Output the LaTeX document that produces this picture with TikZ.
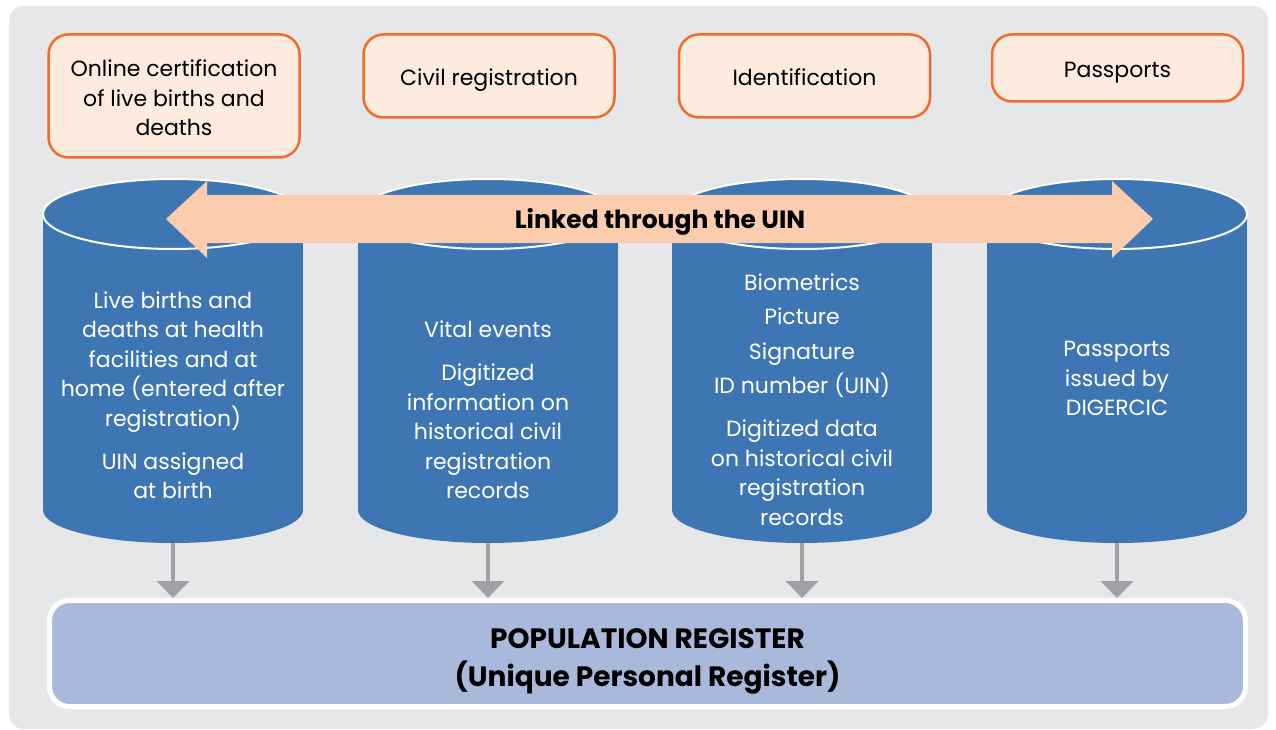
\documentclass[tikz,border=0pt]{standalone}
\usepackage{fontspec}
\setmainfont{Poppins}
\usetikzlibrary{positioning}
\usetikzlibrary{arrows.meta,shapes}
\usetikzlibrary{calc}
\definecolor{bggray}{HTML}{E6E7E9}
\definecolor{boxfill}{HTML}{FDEBDF}
\definecolor{boxline}{HTML}{F26B2A}
\definecolor{cylblue}{HTML}{3E76B3}
\definecolor{linkpeach}{HTML}{FBCCAE}
\definecolor{regfill}{HTML}{A9B9DC}
\definecolor{arrgray}{HTML}{A0A1A4}
\tikzstyle{topbox}=[rectangle,rounded corners=20pt,fill=boxfill,draw=boxline,line width=2.5pt,minimum width=251pt,align=center,anchor=north,font=\fontsize{22}{29.5}\selectfont]
\tikzstyle{oneline}=[text height=24pt,text depth=5pt]
\tikzstyle{cyltext}=[align=center,text=white,font=\fontsize{22}{29.5}\selectfont]
\tikzstyle{feed}=[draw=arrgray,line width=4pt,-{Triangle[width=32pt,length=17pt]}]
\tikzstyle{register}=[rectangle,rounded corners=20pt,fill=regfill,draw=white,line width=5pt,minimum width=1196pt,minimum height=106pt,align=center,font=\bfseries\fontsize{28}{38}\selectfont]

\begin{document}
\begin{tikzpicture}[x=1pt,y=-1pt]
    \useasboundingbox (0,0) rectangle (1276,730);
    % Background panel
    \fill[bggray,rounded corners=15pt] (9,6) rectangle (1268,729);

    % First we draw the four source boxes
    \node[topbox,minimum height=123pt] (online) at (174,33.2) {\rule{0pt}{21pt}Online certification\\of live births and\\deaths};
    \foreach \pos/\name/\h/\label in {{(489,33.2)/civreg/83/{Civil registration}}, {(804.5,33.2)/idf/83/{Identification}}, {(1117.5,33.2)/pass/67/{Passports}}}
            \node[topbox,oneline,minimum height=\h pt] (\name) at \pos {\label};

    % Then the databases
    \foreach \x/\name in {173/births, 488/civil, 802/ident, 1117/passdb}
    {
        \fill[cylblue] (\x-130,214) rectangle (\x+130,510);
        \fill[cylblue] (\x,510) ellipse [x radius=130,y radius=33];
        \filldraw[cylblue,draw=white,line width=2pt] (\x,214) ellipse [x radius=130,y radius=35];
        \coordinate (\name b) at (\x,543);
    }

    \node[cyltext] (birthstxt) at (173,395) {Live births and\\deaths at health\\facilities and at\\home (entered after\\registration)\\[13.5pt]UIN assigned\\at birth};
    \node[cyltext] (civiltxt) at (488,410) {Vital events\\[13.5pt]Digitized\\information on\\historical civil\\registration\\records};
    \node[cyltext] (identtxt) at (802,399.5) {Biometrics\\[5pt]Picture\\[5pt]Signature\\[5pt]ID number (UIN)\\[13.5pt]Digitized data\\on historical civil\\registration\\records};
    \node[cyltext] (passtxt) at (1117,378.5) {Passports\\issued by\\DIGERCIC};

    % Link arrow across the databases
    \fill[linkpeach] (166,219) -- (207,181) -- (207,195) -- (1112,195) -- (1112,181) -- (1153,219)
        -- (1112,258) -- (1112,243) -- (207,243) -- (207,258) -- cycle;
    \node[font=\bfseries\fontsize{25}{30}\selectfont] (link) at (660,222) {Linked through the UIN};

    % Register and feeds
    \node[register] (reg) at (647.5,653.5) {\rule{0pt}{35pt}POPULATION REGISTER\\(Unique Personal Register)};
    \foreach \source in {births, civil, ident, passdb}
        \draw[feed] (\source b) -- (\source b |- reg.north);
\end{tikzpicture}
\end{document}
